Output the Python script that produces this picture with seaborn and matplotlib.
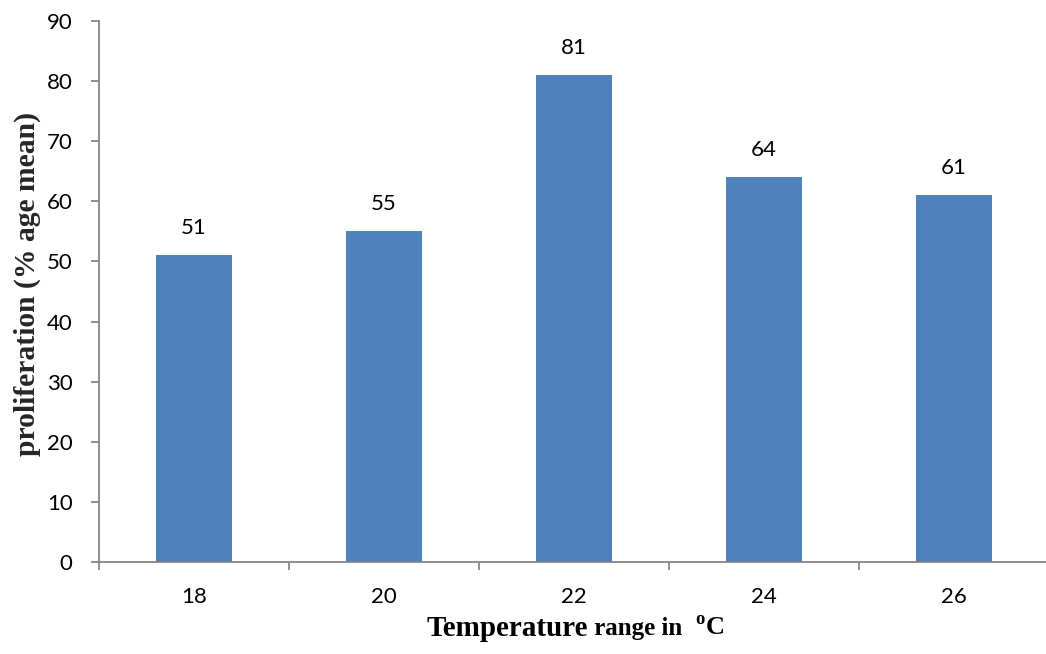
import matplotlib
matplotlib.use("Agg")
import matplotlib.pyplot as plt
from matplotlib.offsetbox import TextArea, HPacker, AnnotationBbox
from matplotlib.ticker import FixedLocator
import seaborn as sns
import pandas as pd

# Proliferation by temperature
temperatures = ["18", "20", "22", "24", "26"]
proliferation = [51, 55, 81, 64, 61]
y_ticks = [0, 10, 20, 30, 40, 50, 60, 70, 80, 90]

sns.set_theme(style="white")
plt.rcParams["font.family"] = ["Lato", "DejaVu Sans"]
plt.rcParams["mathtext.fontset"] = "custom"
plt.rcParams["mathtext.rm"] = "Liberation Serif:bold"
plt.rcParams["mathtext.bf"] = "Liberation Serif:bold"

df = pd.DataFrame({"temp": temperatures, "value": proliferation})

W, H = 1046, 654
fig = plt.figure(figsize=(W / 100, H / 100), dpi=100)
ax = fig.add_axes([99 / W, (H - 562) / H, 950 / W, (562 - 21) / H])

sns.barplot(data=df, x="temp", y="value", order=temperatures,
            color="#4F81BD", saturation=1, width=0.4, linewidth=0, ax=ax)

ax.set_xlim(-0.5, len(temperatures) - 0.5)
ax.set_ylim(y_ticks[0], y_ticks[-1])
ax.set_yticks(y_ticks)

# value labels above bars
for i, v in enumerate(proliferation):
    ax.annotate(str(v), (i, v), xytext=(0, 12.5), textcoords="offset points",
                ha="center", va="bottom", fontsize=16, color="black")

spine_col = "#868686"
for s in ["top", "right"]:
    ax.spines[s].set_visible(False)
for s in ["left", "bottom"]:
    ax.spines[s].set_color(spine_col)
    ax.spines[s].set_linewidth(1.3)

ax.tick_params(axis="y", direction="out", length=6, width=1.3, color=spine_col,
               pad=13, labelsize=16, labelcolor="black", left=True)
ax.tick_params(axis="x", which="major", length=0, pad=18, labelsize=16,
               labelcolor="black")
ax.xaxis.set_minor_locator(FixedLocator([i - 0.5 for i in range(len(temperatures) + 1)]))
ax.tick_params(axis="x", which="minor", direction="out", length=5.5, width=1.3,
               color=spine_col, bottom=True)

ax.set_xlabel("")
ax.set_ylabel("")

# y-axis title
fig.text(27 / W, 1 - 284 / H, "proliferation (% age mean)", rotation=90,
         ha="center", va="center", fontsize=21.3, fontweight="bold",
         family="Liberation Serif")

# x-axis title with mixed sizes and a superscript degree mark
serif = dict(family="Liberation Serif", weight="bold", color="black")
t1 = TextArea("Temperature", textprops=dict(size=21, **serif))
t2 = TextArea(" range in  ", textprops=dict(size=18, **serif))
t3 = TextArea(r"$^{\mathbf{o}}$C", textprops=dict(size=19, **serif))
box = HPacker(children=[t1, t2, t3], pad=0, sep=0, align="baseline")
ab = AnnotationBbox(box, (575 / W, 1 - 628 / H), xycoords="figure fraction",
                    frameon=False, box_alignment=(0.5, 0.5), pad=0)
fig.add_artist(ab)

fig.savefig("out.png", dpi=100)
